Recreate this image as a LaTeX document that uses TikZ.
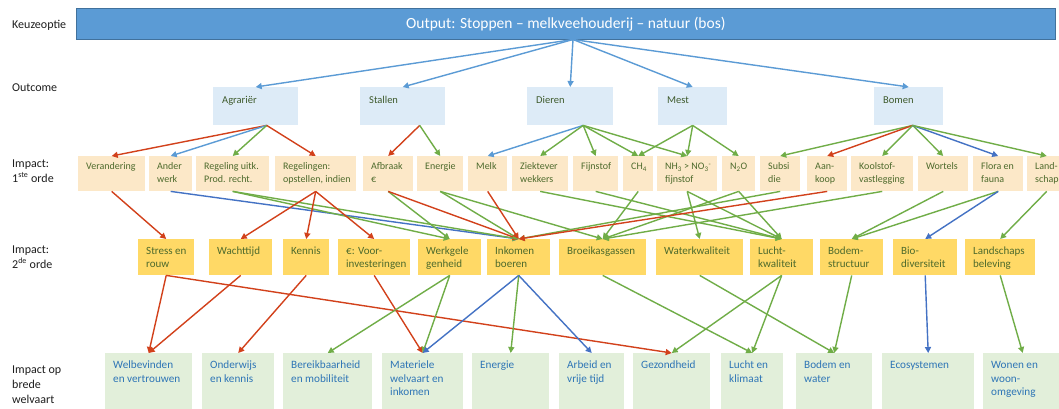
\documentclass[tikz,border=0pt]{standalone}
\usepackage{fontspec}
\setmainfont{Carlito}
\usetikzlibrary{arrows.meta}
\definecolor{bannerfill}{HTML}{5B9BD5}
\definecolor{bannerline}{HTML}{41719C}
\definecolor{ocfill}{HTML}{DDEBF7}
\definecolor{iafill}{HTML}{FCE8C8}
\definecolor{ibfill}{HTML}{FFD966}
\definecolor{wbfill}{HTML}{E2EFDA}
\definecolor{octext}{HTML}{3E5A2C}
\definecolor{itext}{HTML}{4D6A2C}
\definecolor{wbtext}{HTML}{2E75B6}
\definecolor{lbltext}{HTML}{1E1E1E}
\definecolor{cred}{HTML}{D2411B}
\definecolor{cgreen}{HTML}{70AD47}
\definecolor{clblue}{HTML}{5B9BD5}
\definecolor{cdblue}{HTML}{4472C4}
\newcommand\bx[7]{%
  \node[#6, anchor=north west, inner sep=0pt, minimum width={#4-#2}, minimum height={#5-#3}] (#1) at (#2,#3) {};
  \node[#6txt] at (#1.north west) {\strut #7};}
\begin{document}
\begin{tikzpicture}[x=1pt,y=-1pt,
  oc/.style={fill=ocfill},
  octxt/.style={anchor=north west, inner sep=0pt, align=left, xshift=9pt, yshift=-7pt, text=octext, font=\fontsize{10.5}{13.5}\selectfont},
  ia/.style={fill=iafill},
  iatxt/.style={anchor=north west, inner sep=0pt, align=left, xshift=8pt, yshift=-4.4pt, text=itext, font=\fontsize{10}{13}\selectfont},
  ib/.style={fill=ibfill},
  ibtxt/.style={anchor=north west, inner sep=0pt, align=left, xshift=8pt, yshift=-6.4pt, text=itext, font=\fontsize{11}{13}\selectfont},
  wb/.style={fill=wbfill},
  wbtxt/.style={anchor=north west, inner sep=0pt, align=left, xshift=8pt, yshift=-6pt, text=wbtext, font=\fontsize{11.2}{13.5}\selectfont},
  lbl/.style={anchor=west, inner sep=0pt, align=left, text=lbltext, font=\fontsize{12}{15}\selectfont},
  ar/.style={line width=1.4pt, -{Triangle[length=6pt,width=6pt]}},
  er/.style={ar, draw=cred},
  eg/.style={ar, draw=cgreen},
  el/.style={ar, draw=clblue},
  ed/.style={ar, draw=cdblue}]
\fill[white] (0,0) rectangle (1059,408);
\clip (0,0) rectangle (1059,408);

% left labels
\node[lbl] (l1) at (12,25) {Keuzeoptie};
\node[lbl] (l2) at (12,88) {Outcome};
\node[lbl] (l3) at (12,171) {Impact:\\1\textsuperscript{ste} orde};
\node[lbl] (l4) at (12,257) {Impact:\\2\textsuperscript{de} orde};
\node[lbl] (l5) at (12,385) {Impact op\\brede\\welvaart};

% banner
\node[anchor=north west, fill=bannerfill, draw=bannerline, line width=0.8pt, minimum width=979pt, minimum height=31pt, inner sep=0pt, text=white, font=\fontsize{15.5}{17}\selectfont] (ban) at (76,8) {Output: Stoppen -- melkveehouderij -- natuur (bos)};
\coordinate (src) at (573,39.5);

% outcome
\bx{agr}{213}{87}{298}{125}{oc}{Agrariër}
\bx{sta}{360}{87}{445}{125}{oc}{Stallen}
\bx{die}{527}{87}{613}{125}{oc}{Dieren}
\bx{mes}{658}{87}{727}{125}{oc}{Mest}
\bx{bom}{874}{87}{943}{125}{oc}{Bomen}

% impact 1
\bx{ver}{78}{156}{145}{191}{ia}{Verandering}
\bx{and}{149}{156}{192}{191}{ia}{Ander\\werk}
\bx{reg}{196}{156}{269}{191}{ia}{Regeling uitk.\\Prod. recht.}
\bx{rgl}{275}{156}{356}{191}{ia}{Regelingen:\\opstellen, indien}
\bx{afb}{363}{156}{413}{191}{ia}{Afbraak\\€}
\bx{ene}{417}{156}{463}{191}{ia}{Energie}
\bx{mel}{468}{156}{507}{191}{ia}{Melk}
\bx{zie}{512}{156}{568}{191}{ia}{Ziektever\\wekkers}
\bx{fij}{573}{156}{618}{191}{ia}{Fijnstof}
\bx{chf}{623}{156}{653}{191}{ia}{CH\textsubscript{4}}
\bx{nhd}{657}{156}{717}{191}{ia}{NH\textsubscript{3} > NO\textsubscript{3}\textsuperscript{-}\\fijnstof}
\bx{nto}{722}{156}{755}{191}{ia}{N\textsubscript{2}O}
\bx{sub}{760}{156}{800}{191}{ia}{Subsi\\die}
\bx{aan}{807}{156}{847}{191}{ia}{Aan-\\koop}
\bx{koo}{851}{156}{913}{191}{ia}{Koolstof-\\vastlegging}
\bx{wor}{918}{156}{968}{191}{ia}{Wortels}
\bx{flo}{973}{156}{1023}{191}{ia}{Flora en\\fauna}
\bx{lan}{1027}{156}{1066}{191}{ia}{Land-\\schap}

% impact 2
\bx{str}{138}{239}{194}{275}{ib}{Stress en\\rouw}
\bx{wac}{209}{239}{272}{275}{ib}{Wachttijd}
\bx{ken}{283}{239}{329}{275}{ib}{Kennis}
\bx{voo}{338}{239}{410}{275}{ib}{€: Voor-\\investeringen}
\bx{wer}{418}{239}{481}{275}{ib}{Werkgele\\genheid}
\bx{ink}{487}{239}{550}{275}{ib}{Inkomen\\boeren}
\bx{bro}{559}{239}{646}{275}{ib}{Broeikasgassen}
\bx{wat}{656}{239}{743}{275}{ib}{Waterkwaliteit}
\bx{luc}{750}{239}{813}{275}{ib}{Lucht-\\kwaliteit}
\bx{bod}{820}{239}{883}{275}{ib}{Bodem-\\structuur}
\bx{bio}{893}{239}{957}{275}{ib}{Bio-\\diversiteit}
\bx{lsb}{965}{239}{1035}{275}{ib}{Landschaps\\beleving}

% brede welvaart
\bx{wel}{105}{353}{192}{412}{wb}{Welbevinden\\en vertrouwen}
\bx{ond}{202}{353}{274}{412}{wb}{Onderwijs\\en kennis}
\bx{ber}{283}{353}{372}{412}{wb}{Bereikbaarheid\\en mobiliteit}
\bx{mat}{382}{353}{463}{412}{wb}{Materiele\\welvaart en\\inkomen}
\bx{enb}{472}{353}{549}{412}{wb}{Energie}
\bx{arb}{559}{353}{624}{412}{wb}{Arbeid en\\vrije tijd}
\bx{gez}{633}{353}{710}{412}{wb}{Gezondheid}
\bx{lkl}{721}{353}{783}{412}{wb}{Lucht en\\klimaat}
\bx{bwa}{796}{353}{872}{412}{wb}{Bodem en\\water}
\bx{eco}{882}{353}{974}{412}{wb}{Ecosystemen}
\bx{won}{983}{353}{1062}{412}{wb}{Wonen en\\woon-\\omgeving}

% banner -> outcome
\foreach \t in {agr,sta,die,mes,bom} \draw[el] (src) -- (\t.north);

% outcome -> impact 1
\coordinate (agrS) at ([xshift=11pt]agr.south);
\coordinate (staS) at ([xshift=17pt]sta.south);
\coordinate (dieS) at ([xshift=13pt]die.south);
\coordinate (mesS) at (mes.south);
\coordinate (bomS) at ([xshift=4pt]bom.south);
\draw[er] (agrS) -- (ver.north);
\draw[el] (agrS) -- (and.north);
\draw[eg] (agrS) -- (reg.north);
\draw[er] (agrS) -- (rgl.north);
\draw[er] (staS) -- (afb.north);
\draw[eg] (staS) -- (ene.north);
\draw[el] (dieS) -- (mel.north);
\draw[eg] (dieS) -- (zie.north);
\draw[eg] (dieS) -- (fij.north);
\draw[eg] (dieS) -- (chf.north);
\draw[eg] (dieS) -- (nhd.north);
\draw[eg] (mesS) -- (chf.north);
\draw[eg] (mesS) -- (nhd.north);
\draw[eg] (mesS) -- (nto.north);
\draw[eg] (bomS) -- (sub.north);
\draw[er] (bomS) -- (aan.north);
\draw[eg] (bomS) -- (koo.north);
\draw[eg] (bomS) -- (wor.north);
\draw[ed] (bomS) -- (flo.north);
\draw[eg] (bomS) -- (lan.north);

% impact 1 -> impact 2
\draw[er] (ver.south) -- (str.north);
\draw[ed] (and.south) -- (ink.north);
\draw[eg] (reg.south) -- (wer.north);
\draw[eg] (reg.south) -- (ink.north);
\draw[er] (rgl.south) -- (wac.north);
\draw[er] (rgl.south) -- (ken.north);
\draw[er] (rgl.south) -- (voo.north);
\draw[eg] (afb.south) -- (wer.north);
\draw[er] (afb.south) -- (ink.north);
\draw[eg] (ene.south) -- (ink.north);
\draw[eg] (ene.south) -- (bro.north);
\draw[er] (mel.south) -- (ink.north);
\draw[eg] (zie.south) -- (luc.north);
\draw[eg] (fij.south) -- (luc.north);
\draw[eg] (chf.south) -- (bro.north);
\draw[eg] (nhd.south) -- (wat.north);
\draw[eg] (nhd.south) -- (luc.north);
\draw[eg] (nto.south) -- (bro.north);
\draw[eg] (nto.south) -- (luc.north);
\draw[eg] (sub.south) -- (ink.north);
\draw[er] (aan.south) -- (ink.north);
\draw[eg] (koo.south) -- (bro.north);
\draw[eg] (wor.south) -- (bod.north);
\draw[eg] (flo.south) -- (bod.north);
\draw[ed] (flo.south) -- (bio.north);
\draw[eg] (lan.south) -- (lsb.north);

% impact 2 -> brede welvaart
\draw[er] (str.south) -- (wel.north);
\draw[er] (str.south) -- (gez.north);
\draw[er] (wac.south) -- (wel.north);
\draw[er] (ken.south) -- (ond.north);
\draw[er] (voo.south) -- (mat.north);
\draw[eg] (wer.south) -- (ber.north);
\draw[eg] (wer.south) -- (mat.north);
\draw[ed] (ink.south) -- (mat.north);
\draw[eg] (ink.south) -- (enb.north);
\draw[ed] (ink.south) -- (arb.north);
\draw[eg] (bro.south) -- (lkl.north);
\draw[eg] (wat.south) -- (bwa.north);
\draw[eg] (luc.south) -- (gez.north);
\draw[eg] (luc.south) -- (lkl.north);
\draw[eg] (bod.south) -- (bwa.north);
\draw[ed] (bio.south) -- (eco.north);
\draw[eg] (lsb.south) -- (won.north);
\end{tikzpicture}
\end{document}
